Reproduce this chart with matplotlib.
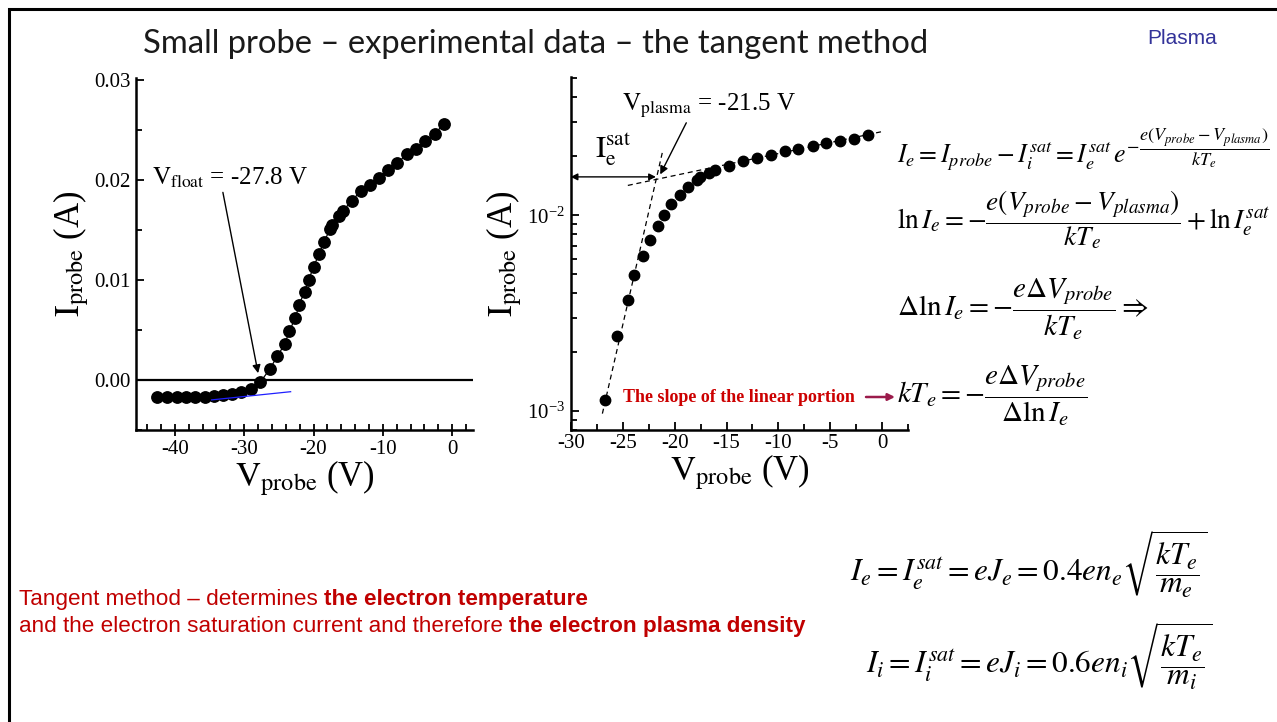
import matplotlib.pyplot as plt
from matplotlib import font_manager
from matplotlib.patches import Rectangle
from matplotlib.text import Annotation
from matplotlib.ticker import MultipleLocator, LogLocator, NullFormatter, FormatStrFormatter

plt.rcParams['font.family'] = ['Liberation Serif', 'DejaVu Serif']
plt.rcParams['mathtext.fontset'] = 'stix'
plt.rcParams['axes.unicode_minus'] = False

# probe current vs probe voltage (linear scale)
v_lin = [-42.5, -41.1, -39.7, -38.4, -37.1, -35.7, -34.4, -33.0, -31.7, -30.4,
         -29.0, -27.7, -26.3, -25.2, -24.1, -23.5, -22.6, -22.1, -21.3, -20.7,
         -20.0, -19.2, -18.5, -17.6, -17.3, -16.3, -15.8, -14.5, -13.2, -11.8,
         -10.5, -9.2, -7.9, -6.5, -5.2, -3.9, -2.5, -1.25]
i_lin = [-0.00167, -0.00167, -0.00167, -0.00167, -0.00167, -0.00166, -0.00157, -0.0015, -0.00137, -0.0012,
         -0.0009, -0.00024, 0.0011, 0.0024, 0.00365, 0.0049, 0.0062, 0.0075, 0.0088, 0.0100,
         0.0113, 0.0126, 0.0138, 0.0151, 0.0155, 0.0164, 0.0169, 0.0179, 0.0189, 0.0195,
         0.0202, 0.0210, 0.0217, 0.0226, 0.0231, 0.0239, 0.0246, 0.0256]

# electron current (log scale)
v_log = [-26.7, -25.5, -24.5, -23.9, -23.0, -22.4, -21.6, -21.0, -20.3, -19.5,
         -18.75, -17.8, -17.6, -16.65, -16.1, -14.8, -13.4, -12.1, -10.7, -9.4,
         -8.1, -6.7, -5.4, -4.1, -2.7, -1.35]
i_log = [1.14e-3, 2.41e-3, 3.68e-3, 4.94e-3, 6.2e-3, 7.5e-3, 8.8e-3, 1.007e-2, 1.135e-2, 1.265e-2,
         1.39e-2, 1.52e-2, 1.56e-2, 1.65e-2, 1.70e-2, 1.79e-2, 1.89e-2, 1.96e-2, 2.03e-2, 2.12e-2,
         2.18e-2, 2.26e-2, 2.33e-2, 2.39e-2, 2.46e-2, 2.57e-2]

v_float = -27.8
v_plasma = -21.5
i_esat = 0.0157

# tangent lines
ion_fit_v = [-34.7, -23.3]
ion_fit_i = [-0.00199, -0.00117]
ret_fit_v = [-26.95, -21.17]
ret_fit_i = [9.7e-4, 0.021]
sat_fit_v = [-24.5, 0.2]
sat_fit_i = [0.0142, 0.0269]

W, H = 1277, 722
RED = '#c00000'

names = {f.name for f in font_manager.fontManager.ttflist}
SANS = 'Liberation Sans Narrow' if 'Liberation Sans Narrow' in names else 'Liberation Sans'

fig = plt.figure(figsize=(W / 100, H / 100), dpi=100)


def put(s, x, y, **kw):
    # text placed in pixels measured from the top-left corner
    ann = Annotation(s, xy=(x, H - y), xycoords='figure pixels', annotation_clip=False, **kw)
    fig.add_artist(ann)
    return ann


def after(prev, s, **kw):
    ann = Annotation(s, xy=(1, 0), xycoords=prev, va='bottom', annotation_clip=False, **kw)
    fig.add_artist(ann)
    return ann


def style(ax):
    for side in ['top', 'right']:
        ax.spines[side].set_visible(False)
    for side in ['left', 'bottom']:
        ax.spines[side].set_linewidth(1.8)
    ax.tick_params(which='both', direction='in', width=1.3, labelsize=15)
    ax.tick_params(which='major', length=6)
    ax.tick_params(which='minor', length=4)
    ax.tick_params(axis='x', which='major', direction='inout', length=8, pad=3)
    ax.tick_params(axis='y', pad=4)


# linear plot
ax1 = fig.add_axes([136 / W, 1 - 430 / H, 337 / W, 352 / H])
style(ax1)
ax1.axhline(0, color='black', lw=1.6)
ax1.plot(v_lin, i_lin, 'o-', color='black', ms=8.2, lw=0.9)
ax1.plot(ion_fit_v, ion_fit_i, color='#1f1fff', lw=0.9)
ax1.set_xlim(-45.6, 3)
ax1.set_ylim(-0.005, 0.0302)
ax1.xaxis.set_major_locator(MultipleLocator(10))
ax1.xaxis.set_minor_locator(MultipleLocator(2))
ax1.yaxis.set_major_locator(MultipleLocator(0.01))
ax1.yaxis.set_minor_locator(MultipleLocator(0.005))
ax1.yaxis.set_major_formatter(FormatStrFormatter('%.2f'))
ax1.set_xlabel(r'$\mathrm{V_{probe}}$ (V)', fontsize=25, labelpad=0)
ax1.set_ylabel(r'$\mathrm{I_{probe}}$ (A)', fontsize=25, labelpad=2)
ax1.annotate(r'$\mathrm{V_{float}}$ = %.1f V' % v_float, xy=(v_float, 0), xytext=(-43.3, 0.0196),
             fontsize=18, annotation_clip=False,
             arrowprops=dict(arrowstyle='-|>', color='black', lw=1.0, mutation_scale=12,
                             shrinkA=0, shrinkB=5, relpos=(0.45, 0)))

# log plot
ax2 = fig.add_axes([570.7 / W, 1 - 430 / H, 337.6 / W, 353.3 / H])
style(ax2)
ax2.set_yscale('log')
ax2.plot(v_log, i_log, 'o', color='black', ms=7.5)
ax2.plot(ret_fit_v, ret_fit_i, '--', color='black', lw=0.9, dashes=(4, 3))
ax2.plot(sat_fit_v, sat_fit_i, '--', color='black', lw=0.9, dashes=(4, 3))
ax2.set_xlim(-30, 2.5)
ax2.set_ylim(8.0e-4, 0.051)
ax2.xaxis.set_major_locator(MultipleLocator(5))
ax2.xaxis.set_minor_locator(MultipleLocator(2.5))
ax2.tick_params(axis='x', which='major', direction='in', length=6)
ax2.yaxis.set_major_locator(LogLocator(base=10))
ax2.yaxis.set_minor_locator(LogLocator(base=10, subs=range(2, 10)))
ax2.yaxis.set_minor_formatter(NullFormatter())
ax2.set_xlabel(r'$\mathrm{V_{probe}}$ (V)', fontsize=25, labelpad=0)
ax2.set_ylabel(r'$\mathrm{I_{probe}}$ (A)', fontsize=25, labelpad=2)
ax2.annotate('', xy=(v_plasma - 0.3, i_esat), xytext=(-30, i_esat),
             arrowprops=dict(arrowstyle='<|-|>', color='black', lw=1.0, mutation_scale=10,
                             shrinkA=0, shrinkB=0))
ax2.text(-27.7, 0.0197, r'$\mathrm{I_e^{sat}}$', fontsize=22)
ax2.annotate(r'$\mathrm{V_{plasma}}$ = %.1f V' % v_plasma, xy=(v_plasma, i_esat), xytext=(-25.1, 0.0343),
             fontsize=18, annotation_clip=False,
             arrowprops=dict(arrowstyle='-|>', color='black', lw=1.0, mutation_scale=12,
                             shrinkA=0, shrinkB=2, relpos=(0.38, 0)))

# slope note
note = put('The slope of the linear portion', 623, 397, fontsize=13, fontweight='bold',
           color='#cc0000', va='center')
ax2.annotate('', xy=(895, H - 397), xytext=(866, H - 397), xycoords='figure pixels',
             annotation_clip=False,
             arrowprops=dict(arrowstyle='-|>', color='#9b1b4b', lw=1.8, mutation_scale=10,
                             shrinkA=0, shrinkB=0))

# equations
put(r'$I_e = I_{probe} - I_i^{sat} = I_e^{sat}\, e^{-\dfrac{e(V_{probe} - V_{plasma})}{kT_e}}$',
    897, 162, fontsize=18.6, va='baseline')
put(r'$\ln I_e = -\dfrac{e(V_{probe} - V_{plasma})}{kT_e} + \ln I_e^{sat}$', 897, 228, fontsize=19.7,
    va='baseline')
put(r'$\Delta\ln I_e = -\dfrac{e\Delta V_{probe}}{kT_e} \Rightarrow$', 897, 317, fontsize=21,
    va='baseline')
put(r'$kT_e = -\dfrac{e\Delta V_{probe}}{\Delta\ln I_e}$', 897, 404, fontsize=21, va='baseline')
put(r'$I_e = I_e^{sat} = eJ_e = 0.4en_e\sqrt{\dfrac{kT_e}{m_e}}$', 850, 582, fontsize=22.5,
    va='baseline')
put(r'$I_i = I_i^{sat} = eJ_i = 0.6en_i\sqrt{\dfrac{kT_e}{m_i}}$', 866, 674, fontsize=22.5,
    va='baseline')

# title and header
put('Small probe – experimental data – the tangent method', 143, 53, fontsize=23.6,
    family='Lato', color='#1a1a1a', va='baseline')
put('Plasma', 1147, 44, fontsize=15, family='Liberation Sans', color='#333399', va='baseline')

# bottom remarks
t1 = put('Tangent method – determines ', 19, 605, fontsize=16.2, family=SANS, color=RED,
         va='baseline')
after(t1, 'the electron temperature', fontsize=16.2, family=SANS, color=RED, fontweight='bold')
t2 = put('and the electron saturation current and therefore ', 19, 632, fontsize=16.2, family=SANS,
         color=RED, va='baseline')
after(t2, 'the electron plasma density', fontsize=16.2, family=SANS, color=RED, fontweight='bold')

# slide frame
fig.add_artist(Rectangle((9 / W, -0.1), 1.5, 1.1 - 9 / H, transform=fig.transFigure,
                         fill=False, lw=2.2, ec='black'))

fig.savefig('out.png', dpi=100)
